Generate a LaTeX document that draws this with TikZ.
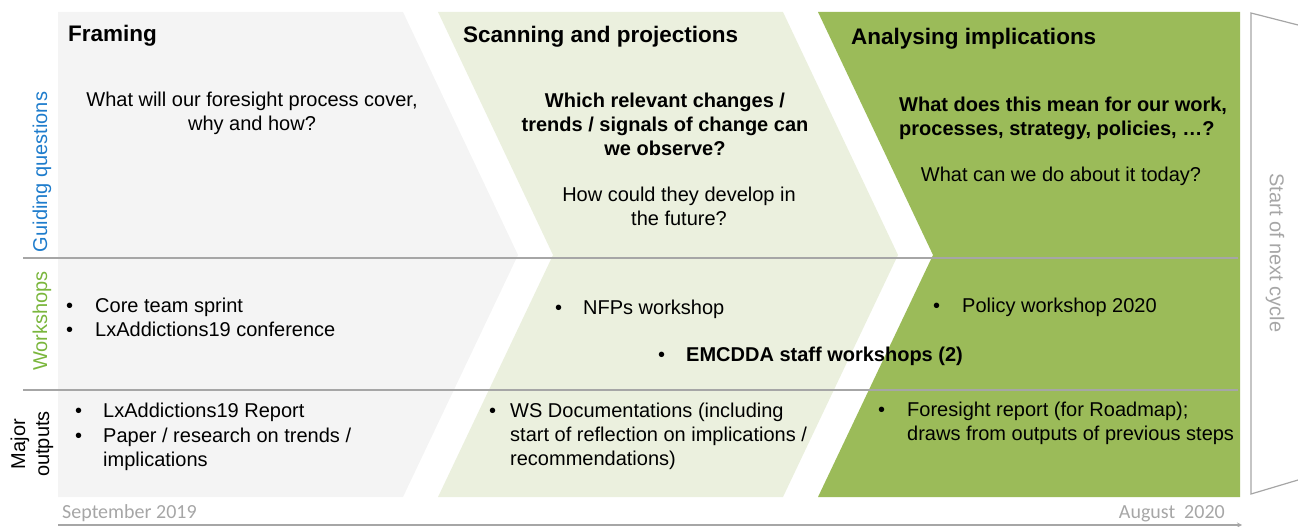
\documentclass[tikz,border=0pt]{standalone}
\usepackage{fontspec}
\setmainfont{Liberation Sans}
\newfontfamily\datefont{Carlito}

\definecolor{framegray}{RGB}{244,244,244}
\definecolor{scanlight}{RGB}{235,240,222}
\definecolor{analysegreen}{RGB}{155,187,89}
\definecolor{rulegray}{RGB}{166,166,166}
\definecolor{guideblue}{RGB}{30,124,204}
\definecolor{workgreen}{RGB}{122,182,60}

\tikzset{
  body/.style={font=\fontsize{20}{24}\selectfont, inner sep=0pt},
  bold/.style={font=\fontsize{20}{24}\selectfont\bfseries, inner sep=0pt},
  head/.style={font=\fontsize{22.5}{27}\selectfont\bfseries, inner sep=0pt, anchor=base west},
  sidelabel/.style={font=\fontsize{20}{24}\selectfont, inner sep=0pt, align=center},
  datelabel/.style={font=\datefont\fontsize{20}{24}\selectfont, text=rulegray, inner sep=0pt, anchor=base west}
}

\begin{document}
\begin{tikzpicture}[>=stealth, x=1pt, y=-1pt]
        \useasboundingbox (0,0) rectangle (1298,527);
        \fill[framegray] (58,12) -- (403,12) -- (518,255) -- (403,497) -- (58,497) -- cycle;
        \fill[scanlight] (438,12) -- (783,12) -- (898,255) -- (783,497) -- (438,497) -- (553,255) -- cycle;
        \fill[analysegreen] (818,12) -- (1240,12) -- (1240,497) -- (818,497) -- (933,255) -- cycle;
        \draw[rulegray, line width=1.2pt] (1298,25) -- (1251,13) -- (1251,494) -- (1298,480);
        \draw[rulegray, line width=1.2pt] (23,258) -- (1238,258);
        \draw[rulegray, line width=1.2pt] (23,390) -- (1238,390);
        \coordinate (tstart) at (58,525);
        \coordinate (tend) at (1242,525);
        \draw[->, rulegray, line width=1.2pt] (tstart) -- (tend);

        \node[sidelabel, rotate=90, text=guideblue] (guiding) at (42,172) {Guiding questions};
        \node[sidelabel, rotate=90, text=workgreen] (workshops) at (42,321) {Workshops};
        \node[sidelabel, rotate=90] (outputs) at (32,444) {Major\\outputs};
        \node[sidelabel, rotate=-90, text=rulegray] (nextcycle) at (1275,253) {Start of next cycle};

        \node[head] (framing) at (68,41.5) {Framing};
        \node[head] (scanning) at (463,43) {Scanning and projections};
        \node[head] (analysing) at (851,45) {Analysing implications};

        \node[body, align=center, anchor=north] (qframe) at (252,92) {What will our foresight process cover,\\why and how?};
        \node[bold, align=center, anchor=north] (qscan) at (665,93) {Which relevant changes /\\trends / signals of change can\\we observe?};
        \node[body, align=center, anchor=north] (qscanb) at (679,186.5) {How could they develop in\\the future?};
        \node[bold, align=left, anchor=north west] (qanalyse) at (899,97) {What does this mean for our work,\\processes, strategy, policies, …?};
        \node[body, align=center, anchor=north] (qanalyseb) at (1061,166.5) {What can we do about it today?};

        \foreach \n/\bx/\y in {w1/66/312.5, w2/66/336, w3/555/314, w4/933/312, w5/658/361, o1/75/417.5, o2/75/442, o3/489/417.5, o4/878/416}
            \node[body, anchor=base west] (\n) at (\bx,\y) {•};

        \node[body, anchor=base west] (sprint) at (95,312.5) {Core team sprint};
        \node[body, anchor=base west] (conference) at (95,336) {LxAddictions19 conference};
        \node[body, anchor=base west] (nfps) at (583,314) {NFPs workshop};
        \node[body, anchor=base west] (policyws) at (962,312) {Policy workshop 2020};
        \node[bold, anchor=base west] (staffws) at (686,361) {EMCDDA staff workshops (2)};
        \node[body, anchor=base west] (report) at (103,417.5) {LxAddictions19 Report};
        \node[body, align=left, anchor=north west] (paper) at (103,427.5) {Paper / research on trends /\\implications};
        \node[body, align=left, anchor=north west] (wsdoc) at (510,403) {WS Documentations (including\\start of reflection on implications /\\recommendations)};
        \node[body, align=left, anchor=north west] (foresight) at (907,401.5) {Foresight report (for Roadmap);\\draws from outputs of previous steps};

        \node[datelabel] (september) at (62,518) {September 2019};
        \node[datelabel, anchor=base east] (august) at (1225,518) {August\ \ 2020};
    \end{tikzpicture}
\end{document}
